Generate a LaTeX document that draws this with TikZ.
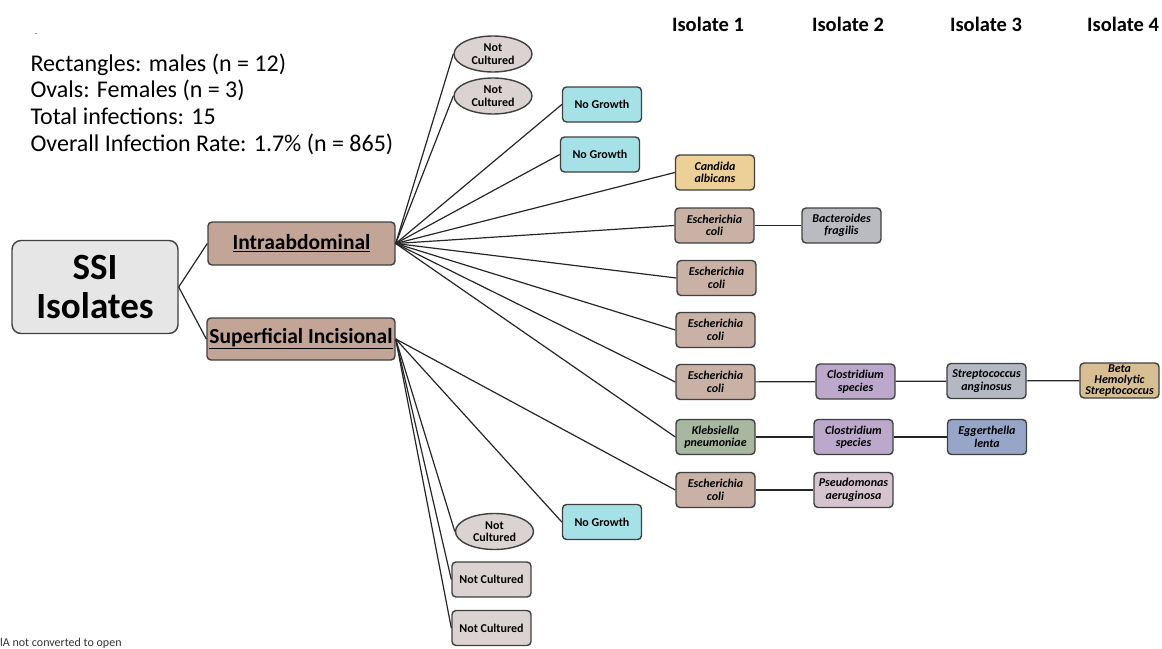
\documentclass[tikz,border=0pt]{standalone}
\usepackage{fontspec}
\setmainfont{Carlito}
\usetikzlibrary{shapes.geometric}

\definecolor{ssigray}{HTML}{E6E6E6}
\definecolor{sitebrown}{HTML}{C2A596}
\definecolor{ecoli}{HTML}{C9B1A6}
\definecolor{candida}{HTML}{EDCF98}
\definecolor{bacter}{HTML}{B9BBC1}
\definecolor{clostr}{HTML}{BBA8CB}
\definecolor{strepang}{HTML}{B4B8C3}
\definecolor{betahem}{HTML}{D8BE93}
\definecolor{klebs}{HTML}{A7B7A0}
\definecolor{egger}{HTML}{97A5C8}
\definecolor{pseudo}{HTML}{D5C3CD}
\definecolor{nogrowth}{HTML}{A6E1E8}
\definecolor{notcult}{HTML}{DAD3D1}
\definecolor{edgegray}{HTML}{404040}

\tikzset{
  isobox/.style={draw=edgegray, line width=1.4pt, rounded corners=4pt,
    minimum width=79pt, minimum height=35pt, inner sep=0.5pt, align=center,
    font=\bfseries\itshape\fontsize{12}{12.5}\selectfont},
  plainbox/.style={isobox, font=\bfseries\fontsize{12}{12.5}\selectfont},
  femoval/.style={ellipse, draw=edgegray, line width=1.4pt, fill=notcult,
    minimum width=78pt, minimum height=36pt, inner sep=0pt, align=center,
    font=\bfseries\fontsize{12}{12.5}\selectfont},
  sitebox/.style={draw=edgegray, line width=1.4pt, rounded corners=4pt, fill=sitebrown,
    minimum height=43pt, inner sep=0pt, font=\bfseries\fontsize{21.5}{24}\selectfont},
  link/.style={line width=1.2pt, black!85},
  colhead/.style={font=\bfseries\fontsize{20.5}{22}\selectfont}
}

\begin{document}
\begin{tikzpicture}[x=1pt, y=-1pt]
  \useasboundingbox (0,0) rectangle (1162,648);

  \node[anchor=west, align=left, font=\fontsize{24}{26.7}\selectfont] (legend) at (27,104)
    {Rectangles: males (n = 12)\\Ovals: Females (n = 3)\\Total infections: 15\\Overall Infection Rate: 1.7\% (n = 865)};
  \node[font=\fontsize{9}{9}\selectfont, black!60] (dash) at (36,35) {-};
  \node[anchor=base west, font=\fontsize{12}{13}\selectfont, black!80, inner sep=0pt] (note) at (0,646) {lA not converted to open};

  \node[colhead] (h1) at (708,24) {Isolate 1};
  \node[colhead] (h2) at (848,24) {Isolate 2};
  \node[colhead] (h3) at (986,24) {Isolate 3};
  \node[colhead] (h4) at (1123,24) {Isolate 4};

  \node[draw=edgegray, line width=1.4pt, rounded corners=9pt, fill=ssigray,
    minimum width=166pt, minimum height=93pt, align=center,
    font=\bfseries\fontsize{37}{39}\selectfont] (ssi) at (95,287) {SSI\\Isolates};
  \node[sitebox, minimum width=187pt] (intra) at (301.5,243.5) {\underline{Intraabdominal}};
  \node[sitebox, minimum width=188pt, minimum height=42pt] (superf) at (301,339) {\underline{Superficial Incisional}};

  \node[femoval] (nc1) at (493,54) {Not\\Cultured};
  \node[femoval] (nc2) at (493,96) {Not\\Cultured};
  \node[plainbox, fill=nogrowth] (ng1) at (602,104.5) {No Growth};
  \node[plainbox, fill=nogrowth] (ng2) at (600,154.5) {No Growth};
  \node[isobox, fill=candida] (ca) at (715,172.5) {Candida\\albicans};
  \node[isobox, fill=ecoli] (ec1) at (714.5,225.5) {Escherichia\\coli};
  \node[isobox, fill=bacter] (bf) at (841.5,225.5) {Bacteroides\\fragilis};
  \node[isobox, fill=ecoli] (ec2) at (716.5,278) {Escherichia\\coli};
  \node[isobox, fill=ecoli] (ec3) at (715.5,330) {Escherichia\\coli};
  \node[isobox, fill=ecoli] (ec4) at (715.5,382) {Escherichia\\coli};
  \node[isobox, fill=clostr] (cs1) at (855.5,381.5) {Clostridium\\species};
  \node[isobox, fill=strepang] (sa) at (986.5,381) {Streptococcus\\anginosus};
  \node[isobox, fill=betahem, font=\bfseries\itshape\fontsize{12}{11}\selectfont] (bh) at (1119.5,380.5) {Beta\\Hemolytic\\Streptococcus};
  \node[isobox, fill=klebs] (kp) at (715.5,437) {Klebsiella\\pneumoniae};
  \node[isobox, fill=clostr] (cs2) at (853.5,437) {Clostridium\\species};
  \node[isobox, fill=egger] (el) at (987,437) {Eggerthella\\lenta};
  \node[isobox, fill=ecoli] (ec5) at (715.5,490) {Escherichia\\coli};
  \node[isobox, fill=pseudo] (pa) at (853.5,490) {Pseudomonas\\aeruginosa};
  \node[plainbox, fill=nogrowth] (ng3) at (602,522) {No Growth};
  \node[femoval] (nc3) at (494.5,531.5) {Not\\Cultured};
  \node[plainbox, fill=notcult] (nc4) at (491.5,579.5) {Not Cultured};
  \node[plainbox, fill=notcult] (nc5) at (491.5,628) {Not Cultured};

  \draw[link] (ssi.east) -- (intra.west);
  \draw[link] (ssi.east) -- (superf.west);
  \foreach \n in {nc1,nc2,ng1,ng2,ca,ec1,ec2,ec3,ec4,kp}
    \draw[link] (intra.east) -- (\n.west);
  \foreach \n in {ec5,ng3,nc3,nc4,nc5}
    \draw[link] (superf.east) -- (\n.west);
  \draw[link] (ec1) -- (bf);
  \draw[link] (ec4) -- (cs1) -- (sa) -- (bh);
  \draw[link] (kp) -- (cs2) -- (el);
  \draw[link] (ec5) -- (pa);
\end{tikzpicture}
\end{document}
